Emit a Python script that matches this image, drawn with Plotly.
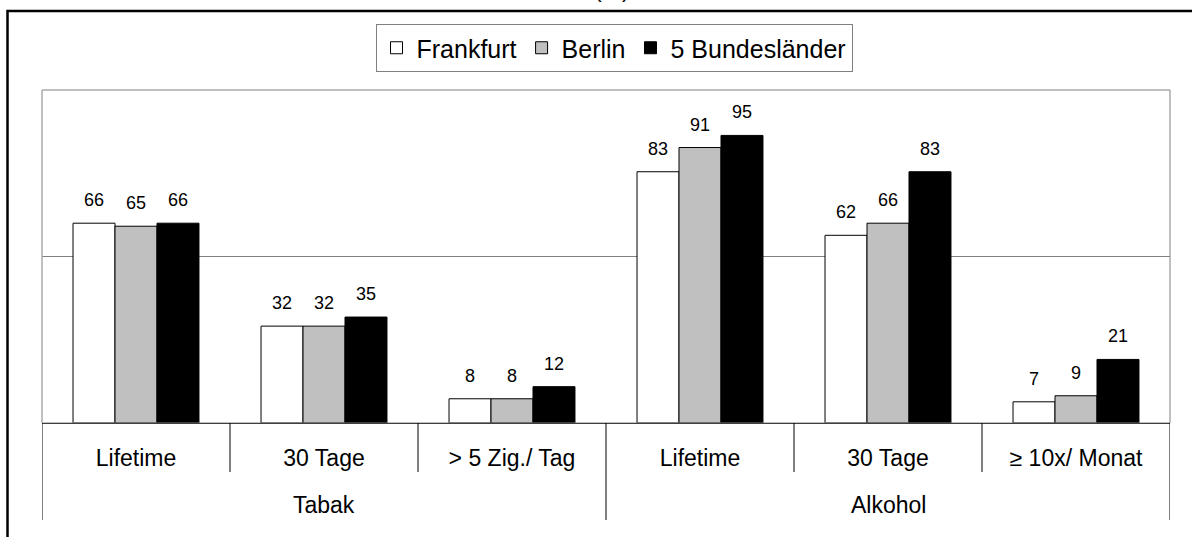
import plotly.graph_objects as go

outer = ["Tabak", "Tabak", "Tabak", "Alkohol", "Alkohol", "Alkohol"]
inner = ["Lifetime", "30 Tage", "> 5 Zig./ Tag", "Lifetime", "30 Tage", "≥ 10x/ Monat"]
series_names = ["Frankfurt", "Berlin", "5 Bundesländer"]
frankfurt = [66, 32, 8, 83, 62, 7]
berlin = [65, 32, 8, 91, 66, 9]
bundeslaender = [66, 35, 12, 95, 83, 21]
values = [frankfurt, berlin, bundeslaender]
colors = ["#ffffff", "#c0c0c0", "#000000"]

FONT = "Liberation Sans, Arial, sans-serif"
BARGAP = 0.33
W, H = 1192, 537
L, R, T, B = 42, 22, 90, 114
pw, ph = W - L - R, H - T - B

xpos = list(range(len(inner)))

fig = go.Figure()
for name, vals, col in zip(series_names, values, colors):
    fig.add_trace(go.Bar(
        x=xpos, y=vals, name=name,
        marker=dict(color=col, line=dict(color="#000000", width=1)),
    ))

# data labels placed via the axis coordinates of each bar
n = len(series_names)
bw = (1 - BARGAP) / n
annotations = []
for j, vals in enumerate(values):
    off = (j - (n - 1) / 2) * bw
    for i, v in zip(xpos, vals):
        annotations.append(dict(
            x=i + off, y=v, xref="x", yref="y", text=str(v), showarrow=False,
            yanchor="bottom", yshift=11, font=dict(family=FONT, size=18, color="#000"),
        ))

# outer group labels, centred on their groups
groups = []
for i, g in enumerate(outer):
    if not groups or groups[-1][0] != g:
        groups.append([g, i, i])
    else:
        groups[-1][2] = i
for g, a, b in groups:
    annotations.append(dict(
        x=(xpos[a] + xpos[b]) / 2, y=-82 / ph, xref="x", yref="paper", text=g,
        showarrow=False, yanchor="middle", font=dict(family=FONT, size=23, color="#000"),
    ))

annotations.append(dict(
    x=(612 - L) / pw, y=(T + ph - 4) / ph, xref="paper", yref="paper", text="(%)",
    showarrow=False, yanchor="bottom", font=dict(family=FONT, size=23, color="#000"),
))

shapes = []
# outer frame
shapes.append(dict(type="rect", xref="paper", yref="paper",
                   x0=(7.5 - L) / pw, x1=(W + 10 - L) / pw,
                   y0=-(B + 10) / ph, y1=(T + ph - 11) / ph,
                   line=dict(color="#000", width=2.5), layer="below"))
# plot area border
shapes.append(dict(type="rect", xref="paper", yref="paper", x0=0, x1=1, y0=0, y1=1,
                   line=dict(color="#808080", width=1), layer="above"))
shapes.append(dict(type="line", xref="paper", yref="paper", x0=0, x1=0, y0=0, y1=1,
                   line=dict(color="#c0c0c0", width=1), layer="above"))
# category boundary lines: long ones between groups, short ones within groups
bounds = [xpos[0] - 0.5] + [i - 0.5 for i in xpos[1:]] + [xpos[-1] + 0.5]
for k, xb in enumerate(bounds):
    is_group_edge = k == 0 or k == len(bounds) - 1 or outer[k] != outer[k - 1]
    depth = 97 if is_group_edge else 49
    shapes.append(dict(type="line", xref="x", yref="paper", x0=xb, x1=xb,
                       y0=0, y1=-depth / ph, line=dict(color="#000", width=1)))

fig.update_layout(
    width=W, height=H,
    margin=dict(l=L, r=R, t=T, b=B, autoexpand=False),
    paper_bgcolor="white", plot_bgcolor="white",
    barmode="group", bargap=BARGAP, bargroupgap=0,
    font=dict(family=FONT, size=23, color="#000"),
    showlegend=True,
    legend=dict(orientation="h", x=(614 - L) / pw, xanchor="center",
                y=(T + ph - 24) / ph, yanchor="top",
                bordercolor="#808080", borderwidth=1, bgcolor="white",
                font=dict(family=FONT, size=25, color="#000"),
                itemwidth=30, traceorder="normal"),
    xaxis=dict(range=[xpos[0] - 0.5, xpos[-1] + 0.5], tickmode="array", tickvals=xpos, ticktext=inner,
               showline=True, linecolor="#000", linewidth=1,
               ticks="outside", ticklen=14, tickcolor="rgba(0,0,0,0)",
               tickfont=dict(family=FONT, size=23, color="#000"), showgrid=False, zeroline=False),
    yaxis=dict(range=[0, 110], dtick=55, showgrid=True, gridcolor="#808080", gridwidth=1,
               showticklabels=False, zeroline=False, ticks=""),
    annotations=annotations,
    shapes=shapes,
)

fig.write_html("out.html", config={"displayModeBar": False},
               post_script="document.body.style.margin='0';document.body.style.overflow='hidden';")
